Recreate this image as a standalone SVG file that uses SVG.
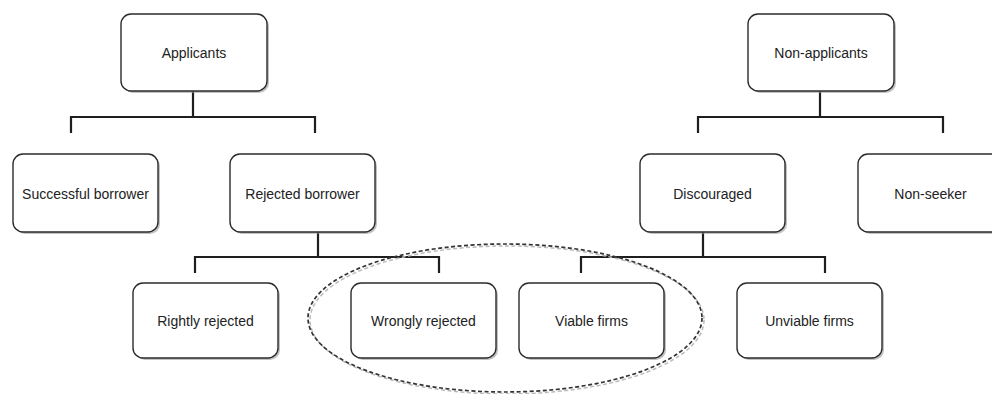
<svg xmlns="http://www.w3.org/2000/svg" width="992" height="394" viewBox="0 0 992 394">
<style>
.box{fill:#ffffff;stroke:#2b2b2b;stroke-width:1.4}
.sh{fill:#9a9a9a;opacity:0.6}
.lbl{font-family:"Liberation Sans",Arial,sans-serif;font-size:14px;fill:#222;text-anchor:middle;dominant-baseline:central}
.conn{fill:none;stroke:#1e1e1e;stroke-width:2.2}
.oval{fill:none;stroke:#333;stroke-width:1.7;stroke-dasharray:4 2.5}
.ovalsh{fill:none;stroke:#bbb;stroke-width:1.5;stroke-dasharray:4 2.5}
</style>
<rect width="992" height="394" fill="#ffffff"/>
<g id="connectors">
<path class="conn" d="M193 91V117M71 133V117H315V133"/>
<path class="conn" d="M820 91V117M698 133V117H943V133"/>
<path class="conn" d="M318 232V257M195 273V257H439V273"/>
<path class="conn" d="M703 232V257M581 273V257H825V273"/>
</g>
<g id="n-applicants"><rect class="sh" x="123" y="16" width="146" height="77" rx="10"/><rect class="box" x="121" y="14" width="146" height="77" rx="10"/><text class="lbl" x="194" y="53">Applicants</text></g>
<g id="n-nonapplicants"><rect class="sh" x="750" y="16" width="146" height="77" rx="10"/><rect class="box" x="748" y="14" width="146" height="77" rx="10"/><text class="lbl" x="821" y="53">Non-applicants</text></g>
<g id="n-successful"><rect class="sh" x="15" y="156" width="145" height="78" rx="10"/><rect class="box" x="13" y="154" width="145" height="78" rx="10"/><text class="lbl" x="85.5" y="194">Successful borrower</text></g>
<g id="n-rejected"><rect class="sh" x="232" y="156" width="145" height="78" rx="10"/><rect class="box" x="230" y="154" width="145" height="78" rx="10"/><text class="lbl" x="302.5" y="194">Rejected borrower</text></g>
<g id="n-discouraged"><rect class="sh" x="642" y="156" width="145" height="78" rx="10"/><rect class="box" x="640" y="154" width="145" height="78" rx="10"/><text class="lbl" x="712.5" y="194">Discouraged</text></g>
<g id="n-nonseeker"><rect class="sh" x="860" y="156" width="145" height="78" rx="10"/><rect class="box" x="858" y="154" width="145" height="78" rx="10"/><text class="lbl" x="930.5" y="194">Non-seeker</text></g>
<g id="n-rightly"><rect class="sh" x="135" y="285" width="145" height="75" rx="10"/><rect class="box" x="133" y="283" width="145" height="75" rx="10"/><text class="lbl" x="205.5" y="321">Rightly rejected</text></g>
<g id="n-wrongly"><rect class="sh" x="353" y="285" width="145" height="75" rx="10"/><rect class="box" x="351" y="283" width="145" height="75" rx="10"/><text class="lbl" x="423.5" y="321">Wrongly rejected</text></g>
<g id="n-viable"><rect class="sh" x="521" y="285" width="145" height="75" rx="10"/><rect class="box" x="519" y="283" width="145" height="75" rx="10"/><text class="lbl" x="591.5" y="321">Viable firms</text></g>
<g id="n-unviable"><rect class="sh" x="739" y="285" width="145" height="75" rx="10"/><rect class="box" x="737" y="283" width="145" height="75" rx="10"/><text class="lbl" x="809.5" y="321">Unviable firms</text></g>
<g id="n-oval">
<ellipse class="ovalsh" cx="507" cy="320" rx="197" ry="74"/>
<ellipse class="oval" cx="505" cy="318" rx="197" ry="74"/>
</g>
</svg>
